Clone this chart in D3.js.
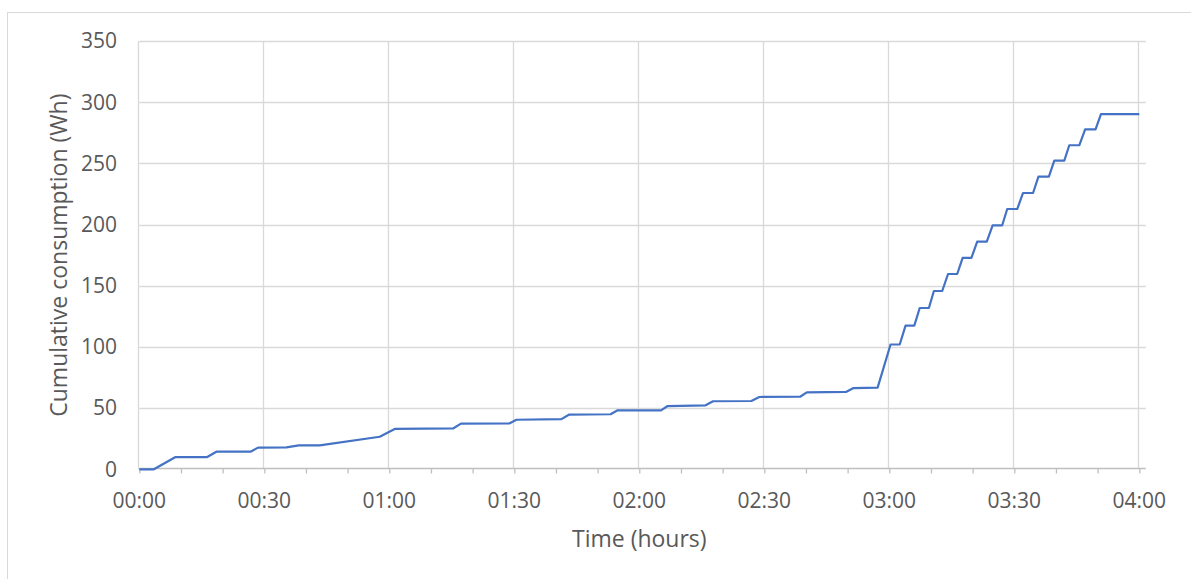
<!DOCTYPE html>
<html>
<head>
<meta charset="utf-8">
<script src="https://cdn.jsdelivr.net/npm/d3@7"></script>
<style>
  body { margin: 0; background: #fff; }
  svg { display: block; font-family: "Open Sans", sans-serif; }
</style>
</head>
<body>
<div id="chart"></div>
<script>
// time in minutes since start, cumulative energy in Wh
const timeMinutes = [0, 3.5, 8.7, 16.3, 18.5, 26.7, 28.5, 35.3, 38.3, 43.3, 57.7, 61.3, 75.4, 77.2, 88.9, 90.5,
  101.3, 103.1, 113.1, 114.8, 125.2, 126.8, 135.9, 137.7, 146.9, 148.8, 158.6, 160.2, 169.6, 171.4, 177.2,
  180.3, 182.5, 183.9, 186, 187.3, 189.5, 190.7, 192.7, 194.1, 196.3, 197.6, 199.7, 201.1, 203.4, 204.8,
  207.1, 208.3, 210.7, 212.1, 214.5, 215.8, 218.3, 219.6, 222, 223.2, 225.6, 227, 229.5, 230.8, 240];
const consumptionWh = [0, 0, 10, 10, 14.4, 14.4, 17.7, 17.9, 19.6, 19.6, 26.6, 33, 33.5, 37.3, 37.6, 40.5,
  41, 44.6, 45, 48.2, 48.2, 51.7, 52.3, 55.6, 55.8, 59.1, 59.3, 62.9, 63.2, 66.4, 66.7,
  102, 102, 117.4, 117.4, 131.8, 131.8, 145.7, 145.7, 159.6, 159.6, 172.7, 172.7, 186, 186, 199.4,
  199.4, 212.7, 212.7, 225.8, 225.8, 239.1, 239.1, 252.2, 252.2, 264.8, 264.8, 277.8, 277.8, 290.3, 290.3];
const xTicks = [0, 30, 60, 90, 120, 150, 180, 210, 240];
const xMinorTicks = d3.range(0, 241, 10);
const yTicks = [0, 50, 100, 150, 200, 250, 300, 350];

const width = 1191, height = 579;
const margin = { top: 41, right: 51.7, bottom: 109.7, left: 139.3 };

const data = timeMinutes.map((t, i) => ({ t: t, v: consumptionWh[i] }));

const svg = d3.select('#chart')
  .append('svg')
  .attr('width', width)
  .attr('height', height);

// chart border
svg.append('rect')
  .attr('x', 7.5).attr('y', 12.5)
  .attr('width', width).attr('height', height)
  .attr('fill', 'none')
  .attr('stroke', '#d9d9d9');

const x = d3.scaleLinear()
  .domain([0, 240])
  .range([margin.left, width - margin.right]);

const y = d3.scaleLinear()
  .domain([0, 350])
  .range([height - margin.bottom, margin.top]);

const fmt = m => d3.format('02d')(Math.floor(m / 60)) + ':' + d3.format('02d')(m % 60);

// horizontal gridlines
svg.append('g')
  .selectAll('line')
  .data(yTicks.filter(d => d > 0))
  .join('line')
  .attr('x1', x(0))
  .attr('x2', x(240) + 6.5)
  .attr('y1', d => Math.round(y(d)) + 0.5)
  .attr('y2', d => Math.round(y(d)) + 0.5)
  .attr('stroke', '#d9d9d9')
  .attr('stroke-width', 1.3);

// vertical gridlines
svg.append('g')
  .selectAll('line')
  .data(xTicks)
  .join('line')
  .attr('x1', d => Math.round(x(d)) - 0.5)
  .attr('x2', d => Math.round(x(d)) - 0.5)
  .attr('y1', y(350))
  .attr('y2', y(0))
  .attr('stroke', '#d9d9d9')
  .attr('stroke-width', 1.3);

// x axis with minor ticks
const xAxis = svg.append('g')
  .attr('transform', `translate(0,${Math.round(y(0)) - 0.5})`)
  .call(d3.axisBottom(x).tickValues(xMinorTicks).tickFormat('').tickSize(5).tickSizeOuter(0));
xAxis.select('.domain')
  .attr('stroke', '#bfbfbf')
  .attr('stroke-width', 1.3)
  .attr('d', `M${x(0)},0H${x(240) + 6.5}`);
xAxis.selectAll('.tick line').attr('stroke', '#bfbfbf').attr('stroke-width', 1.3);

svg.append('g')
  .selectAll('text')
  .data(xTicks)
  .join('text')
  .attr('x', d => x(d))
  .attr('y', 508)
  .attr('text-anchor', 'middle')
  .attr('fill', '#595959')
  .style('font-size', '21px')
  .text(fmt);

// y tick labels
svg.append('g')
  .selectAll('text')
  .data(yTicks)
  .join('text')
  .attr('x', 117)
  .attr('y', d => y(d))
  .attr('dy', '0.35em')
  .attr('text-anchor', 'end')
  .attr('fill', '#595959')
  .style('font-size', '21px')
  .text(d => d);

// the line
svg.append('path')
  .datum(data)
  .attr('fill', 'none')
  .attr('stroke', '#4472c4')
  .attr('stroke-width', 2.2)
  .attr('stroke-linejoin', 'round')
  .attr('d', d3.line().x(d => x(d.t)).y(d => y(d.v)));

// axis titles
svg.append('text')
  .attr('x', x(120))
  .attr('y', 547)
  .attr('text-anchor', 'middle')
  .attr('fill', '#595959')
  .style('font-size', '23px')
  .text('Time (hours)');

svg.append('text')
  .attr('transform', `translate(67,${(y(0) + y(350)) / 2}) rotate(-90)`)
  .attr('text-anchor', 'middle')
  .attr('fill', '#595959')
  .style('font-size', '23px')
  .text('Cumulative consumption (Wh)');
</script>
</body>
</html>
